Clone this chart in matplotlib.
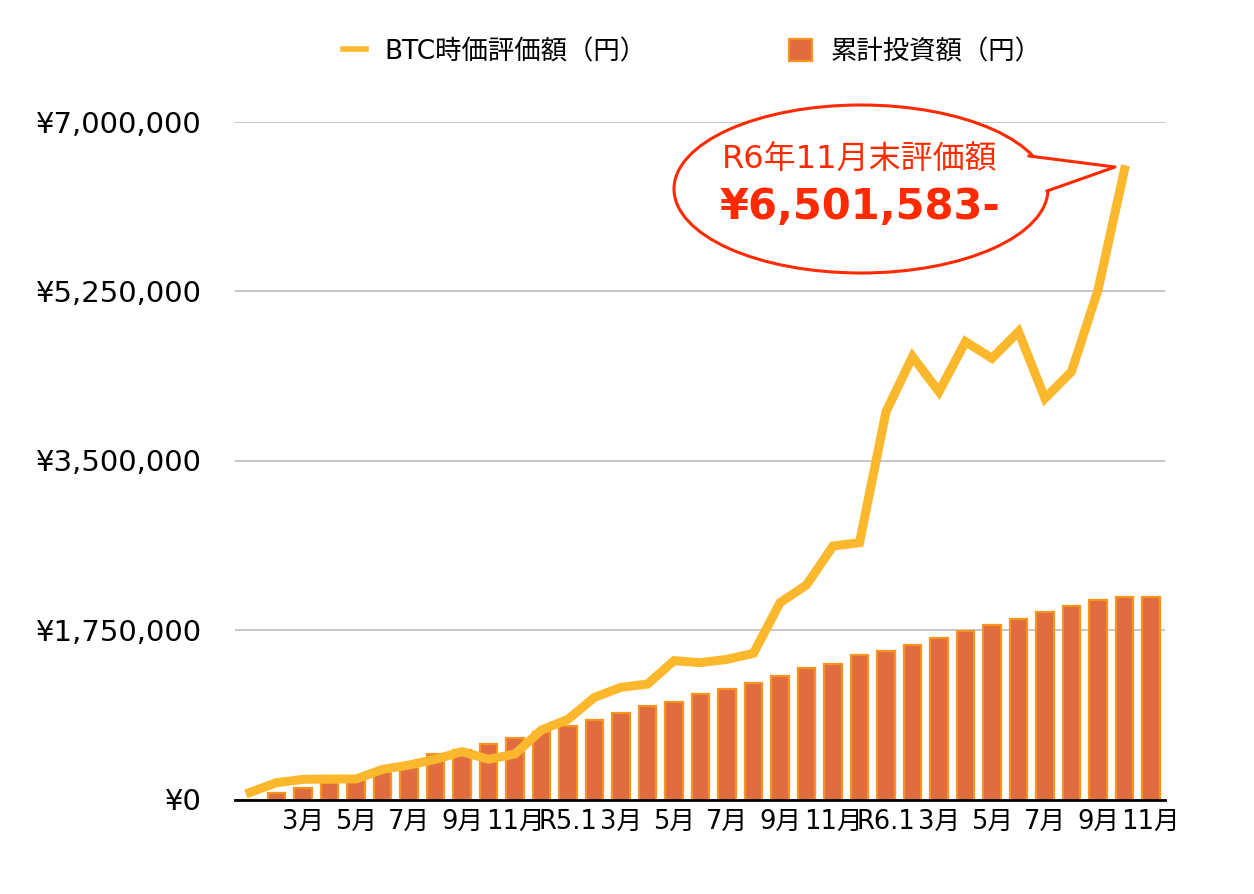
import numpy as np
import matplotlib.pyplot as plt
from matplotlib.patches import Ellipse, Polygon
from matplotlib.lines import Line2D
from matplotlib.ticker import FuncFormatter

plt.rcParams['font.family'] = ['DejaVu Sans', 'Noto Sans CJK JP']

# 累計投資額（円） R4.1 .. R6.11
invest = [0, 64000, 116000, 170000, 220000, 290000, 370000, 467000, 514000, 570000,
          632000, 696000, 755000, 824000, 896000, 962000, 1010000, 1093000, 1139000, 1203000,
          1275000, 1358000, 1399000, 1489000, 1534000, 1596000, 1668000, 1740000, 1803000, 1865000,
          1934000, 1999000, 2061000, 2092000, 2092000]

# BTC時価評価額（円）
btc = [74000, 174000, 208000, 212000, 212000, 311000, 356000, 415000, 494000, 415000,
       470000, 718000, 828000, 1055000, 1158000, 1192000, 1433000, 1413000, 1447000, 1509000,
       2032000, 2215000, 2617000, 2651000, 4004000, 4572000, 4210000, 4727000, 4555000, 4830000,
       4142000, 4417000, 5260000, 6501583, np.nan]

tick_pos = list(range(2, 35, 2))
tick_labels = ['3月', '5月', '7月', '9月', '11月', 'R5.1', '3月', '5月', '7月', '9月', '11月',
               'R6.1', '3月', '5月', '7月', '9月', '11月']

y_ticks = [0, 1750000, 3500000, 5250000, 7000000]

W, H = 1254, 894
def fx(x):
    return x / W
def fy(y):
    return 1 - y / H

red = '#FF2A00'
x = np.arange(len(invest))

fig = plt.figure(figsize=(W / 100, H / 100), dpi=100)
ax = fig.add_axes([fx(235), fy(799.5), fx(1165) - fx(235), fy(121.5) - fy(799.5)])

bars = ax.bar(x, invest, width=0.65, color='#E06C3F', edgecolor='#F7931E', linewidth=1.6,
              zorder=1, label='累計投資額（円）')
ax.plot(x, btc, color='#FBB82C', linewidth=6.5, solid_joinstyle='miter', zorder=3)

ax.set_xlim(-0.57, 34.53)
ax.set_ylim(0, 7000000)
ax.set_yticks(y_ticks)
ax.yaxis.set_major_formatter(FuncFormatter(lambda v, p: '¥{:,}'.format(int(v))))
ax.set_xticks(tick_pos)
ax.set_xticklabels(tick_labels)
ax.tick_params(axis='y', length=0, pad=24, labelsize=21)
ax.tick_params(axis='x', length=0, pad=7, labelsize=18.5)

ax.yaxis.grid(True, color='#BDBDBD', linewidth=1.2)
ax.set_axisbelow(True)
for s in ['left', 'right', 'top']:
    ax.spines[s].set_visible(False)
ax.spines['bottom'].set_color('black')
ax.spines['bottom'].set_linewidth(2)
ax.spines['bottom'].set_zorder(4)

# legend
line_handle = Line2D([], [], color='#FBB82C', linewidth=4)
fig.legend([line_handle, bars], ['BTC時価評価額（円）', '累計投資額（円）'],
           loc='center', bbox_to_anchor=(fx(692), fy(52)), ncol=2, frameon=False,
           fontsize=19, handlelength=0.87, handleheight=0.87, handletextpad=0.7,
           columnspacing=5.4)

# speech bubble
ell = Ellipse((fx(861), fy(189)), 374 / W, 168 / H, transform=fig.transFigure,
              facecolor='white', edgecolor=red, linewidth=2.2, zorder=5)
fig.add_artist(ell)
tail = [(1029, 156), (1115, 167), (1047, 191)]
poly = Polygon([(fx(a), fy(b)) for a, b in tail], closed=True, transform=fig.transFigure,
               facecolor='white', edgecolor='none', zorder=6)
fig.add_artist(poly)
fig.add_artist(Line2D([fx(a) for a, b in tail], [fy(b) for a, b in tail],
                      transform=fig.transFigure, color=red, linewidth=2.2, zorder=7))

fig.text(fx(722), fy(160), 'R6年11月末評価額', color=red, fontsize=23, va='center', zorder=8)
fig.text(fx(720), fy(207), '¥6,501,583-', color=red, fontsize=30, fontweight='bold',
         va='center', zorder=8)

fig.savefig('out.png', dpi=100)
